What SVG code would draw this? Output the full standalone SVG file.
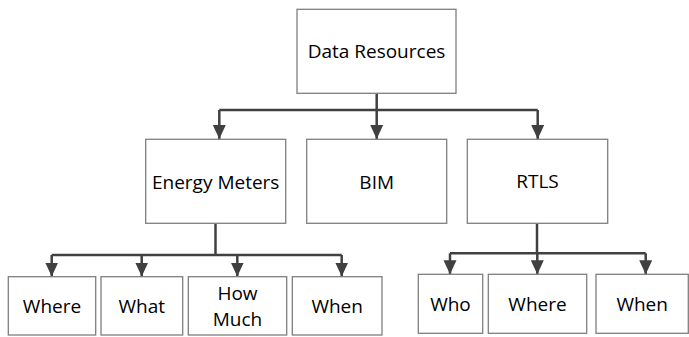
<svg xmlns="http://www.w3.org/2000/svg" width="689" height="337" viewBox="0 0 689 337">
<style>
.box{fill:#fff;stroke:#7f7f7f;stroke-width:1.3}
.lbl{font-family:"Open Sans","Liberation Sans",sans-serif;font-size:19px;fill:#000;text-anchor:middle}
.con{fill:none;stroke:#404040;stroke-width:2.5}
</style>
<defs>
<marker id="ah" markerUnits="userSpaceOnUse" markerWidth="14" markerHeight="14" viewBox="0 0 14 14" refX="14" refY="7" orient="auto">
<path d="M0,0.5 L14,7 L0,13.5 Z" fill="#404040"/>
</marker>
</defs>
<rect width="689" height="337" fill="#fff"/>
<g id="connectors">
<path class="con" d="M376.7,93 V110"/>
<path class="con" d="M219.3,110 H537.7"/>
<path class="con" d="M219.3,110 V139" marker-end="url(#ah)"/>
<path class="con" d="M376.7,110 V139" marker-end="url(#ah)"/>
<path class="con" d="M537.7,110 V139" marker-end="url(#ah)"/>
<path class="con" d="M215.5,223.5 V255"/>
<path class="con" d="M51.7,255 H341.7"/>
<path class="con" d="M51.7,255 V276.5" marker-end="url(#ah)"/>
<path class="con" d="M141.7,255 V276.5" marker-end="url(#ah)"/>
<path class="con" d="M237.3,255 V276.5" marker-end="url(#ah)"/>
<path class="con" d="M341.7,255 V276.5" marker-end="url(#ah)"/>
<path class="con" d="M537,223.5 V253.3"/>
<path class="con" d="M450,253.3 H645.7"/>
<path class="con" d="M450,253.3 V274.3" marker-end="url(#ah)"/>
<path class="con" d="M537.3,253.3 V274.3" marker-end="url(#ah)"/>
<path class="con" d="M645.7,253.3 V274.3" marker-end="url(#ah)"/>
</g>
<g id="data-resources"><rect class="box" x="297" y="9.3" width="159" height="84"/><text class="lbl" x="376.5" y="58.3">Data Resources</text></g>
<g id="energy-meters"><rect class="box" x="145.7" y="139.3" width="140" height="84"/><text class="lbl" x="215.7" y="189">Energy Meters</text></g>
<g id="bim"><rect class="box" x="306.7" y="139.3" width="140" height="84"/><text class="lbl" x="376.7" y="189">BIM</text></g>
<g id="rtls"><rect class="box" x="467.3" y="139.3" width="140.4" height="84"/><text class="lbl" x="537.5" y="188">RTLS</text></g>
<g id="em-where"><rect class="box" x="8.3" y="276.7" width="87.4" height="58.3"/><text class="lbl" x="52" y="312.7">Where</text></g>
<g id="em-what"><rect class="box" x="101" y="276.7" width="81.7" height="58.3"/><text class="lbl" x="141.8" y="312.7">What</text></g>
<g id="em-howmuch"><rect class="box" x="188.3" y="276.7" width="98.4" height="58.3"/><text class="lbl" x="237.5" y="300">How</text><text class="lbl" x="237.5" y="326">Much</text></g>
<g id="em-when"><rect class="box" x="292.3" y="276.7" width="89.7" height="58.3"/><text class="lbl" x="337.2" y="312.7">When</text></g>
<g id="rtls-who"><rect class="box" x="418.3" y="274.3" width="64.4" height="59"/><text class="lbl" x="450.5" y="310.7">Who</text></g>
<g id="rtls-where"><rect class="box" x="488.3" y="274.3" width="98.4" height="59"/><text class="lbl" x="537.5" y="310.7">Where</text></g>
<g id="rtls-when"><rect class="box" x="596" y="274.3" width="92.3" height="59"/><text class="lbl" x="642.2" y="310.7">When</text></g>
</svg>
